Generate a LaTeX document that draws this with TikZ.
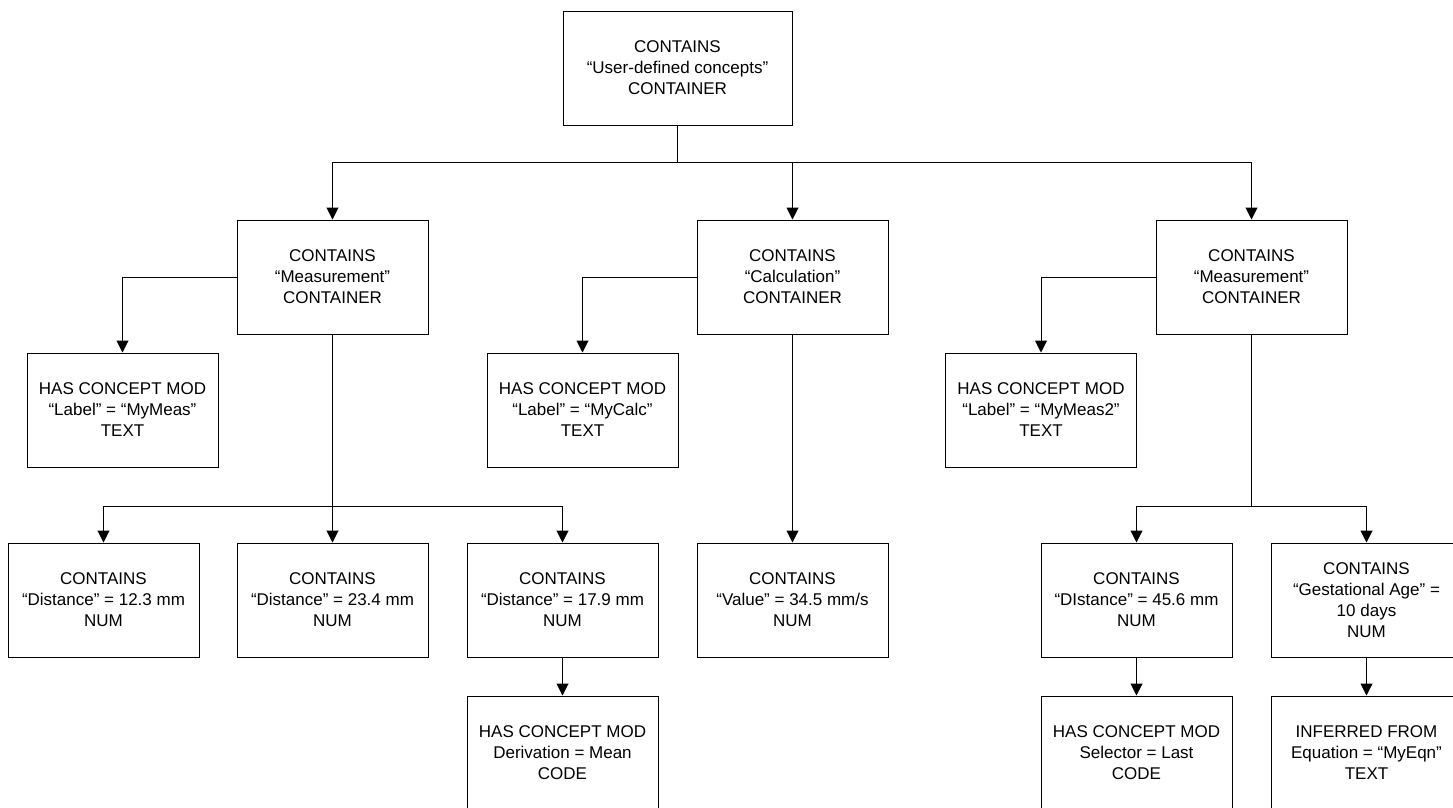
\documentclass[tikz,border=0pt]{standalone}
\usepackage{fontspec}
\setmainfont{Liberation Sans}
\usetikzlibrary{arrows.meta}
\begin{document}
\begin{tikzpicture}[x=1pt,y=-1pt,
  box/.style={draw=black,line width=1pt,rectangle,minimum width=191pt,minimum height=114pt,inner sep=0pt,align=center,font=\fontsize{17}{21}\selectfont},
  arr/.style={draw=black,line width=1pt,-{Triangle[width=12pt,length=12pt]}},
  ln/.style={draw=black,line width=1pt}]
\useasboundingbox (0,0) rectangle (1453,807);
\clip (0,0) rectangle (1453,807);
\fill[white] (0,0) rectangle (1453,807);
% nodes
\node[box,minimum width=229pt] (top) at (677.5,68) {CONTAINS\\“User-defined concepts”\\CONTAINER};
\node[box] (m1) at (332.5,277) {CONTAINS\\“Measurement”\\CONTAINER};
\node[box] (calc) at (792.5,277) {CONTAINS\\“Calculation”\\CONTAINER};
\node[box] (m2) at (1251.5,277) {CONTAINS\\“Measurement”\\CONTAINER};
\node[box] (lab1) at (122.5,410) {HAS CONCEPT MOD\\“Label” = “MyMeas”\\TEXT};
\node[box] (lab2) at (582.5,410) {HAS CONCEPT MOD\\“Label” = “MyCalc”\\TEXT};
\node[box] (lab3) at (1041,410) {HAS CONCEPT MOD\\“Label” = “MyMeas2”\\TEXT};
\node[box] (d1) at (103.5,600) {CONTAINS\\“Distance” = 12.3 mm\\NUM};
\node[box] (d2) at (332.5,600) {CONTAINS\\“Distance” = 23.4 mm\\NUM};
\node[box] (d3) at (562.5,600) {CONTAINS\\“Distance” = 17.9 mm\\NUM};
\node[box] (val) at (792.5,600) {CONTAINS\\“Value” = 34.5 mm/s\\NUM};
\node[box] (d4) at (1136.5,600) {CONTAINS\\“DIstance” = 45.6 mm\\NUM};
\node[box] (ga) at (1366.5,600) {CONTAINS\\“Gestational Age” =\\10 days\\NUM};
\node[box] (mean) at (562.5,753) {HAS CONCEPT MOD\\Derivation = Mean\\CODE};
\node[box] (sel) at (1136.5,753) {HAS CONCEPT MOD\\Selector = Last\\CODE};
\node[box] (eqn) at (1366.5,753) {INFERRED FROM\\Equation = “MyEqn”\\TEXT};
% junctions
\coordinate (j0) at (677.5,162.5);
\coordinate (j1) at (332.5,506);
\coordinate (j2) at (1251.5,506);
% connectors
\draw[ln] (top.south) -- (j0);
\draw[arr] (j0) -| (m1.north);
\draw[arr] (j0) -| (m2.north);
\draw[arr] (calc.north |- j0) -- (calc.north);
\draw[arr] (m1.west) -| (lab1.north);
\draw[arr] (calc.west) -| (lab2.north);
\draw[arr] (m2.west) -| (lab3.north);
\draw[arr] (m1.south) -- (d2.north);
\draw[arr] (j1) -| (d1.north);
\draw[arr] (j1) -| (d3.north);
\draw[arr] (calc.south) -- (val.north);
\draw[ln] (m2.south) -- (j2);
\draw[arr] (j2) -| (d4.north);
\draw[arr] (j2) -| (ga.north);
\draw[arr] (d3.south) -- (mean.north);
\draw[arr] (d4.south) -- (sel.north);
\draw[arr] (ga.south) -- (eqn.north);
\end{tikzpicture}
\end{document}
